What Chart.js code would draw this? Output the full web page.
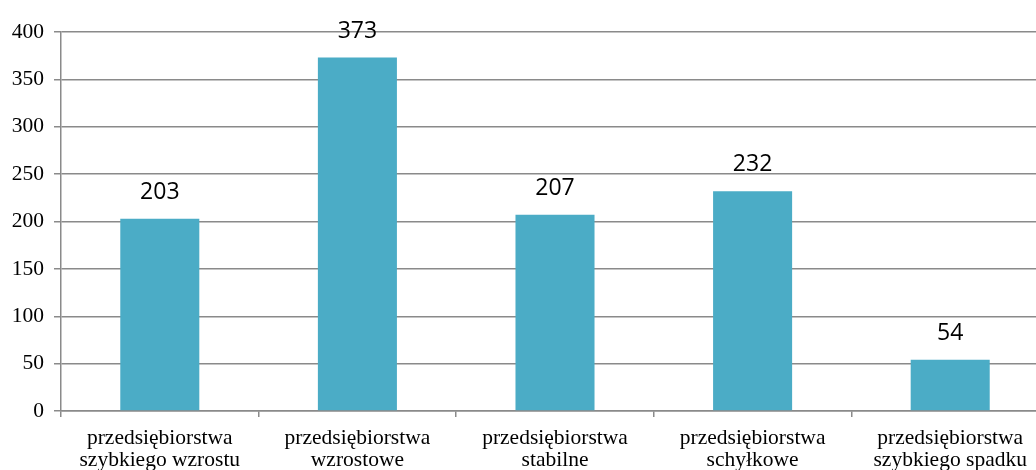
<!DOCTYPE html>
<html>
<head>
<meta charset="utf-8">
<script src="https://cdn.jsdelivr.net/npm/chart.js@4.4.0/dist/chart.umd.min.js"></script>
<style>
html,body{margin:0;padding:0;overflow:hidden;background:#fff;width:1036px;height:470px;}
#wrap{position:absolute;left:0;top:0;width:1050px;height:470px;}
</style>
</head>
<body>
<div id="wrap"><canvas id="c" width="1050" height="470"></canvas></div>
<script>
const categories = [
  ["przedsiębiorstwa", "szybkiego wzrostu"],
  ["przedsiębiorstwa", "wzrostowe"],
  ["przedsiębiorstwa", "stabilne"],
  ["przedsiębiorstwa", "schyłkowe"],
  ["przedsiębiorstwa", "szybkiego spadku"]
];
const values = [203, 373, 207, 232, 54];
const yTicks = [0, 50, 100, 150, 200, 250, 300, 350, 400];

const labelPlugin = {
  id: 'valueLabels',
  afterDatasetsDraw(chart) {
    const ctx = chart.ctx;
    const meta = chart.getDatasetMeta(0);
    ctx.save();
    ctx.font = '23px "Open Sans"';
    ctx.fillStyle = '#000';
    ctx.textAlign = 'center';
    ctx.textBaseline = 'alphabetic';
    meta.data.forEach((bar, i) => {
      ctx.fillText(String(values[i]), bar.x, bar.y - 20);
    });
    ctx.restore();
  }
};

new Chart(document.getElementById('c'), {
  type: 'bar',
  data: {
    labels: categories,
    datasets: [{
      data: values,
      backgroundColor: '#4BACC6',
      borderWidth: 0,
      barPercentage: 0.4,
      categoryPercentage: 1.0
    }]
  },
  options: {
    responsive: false,
    animation: false,
    devicePixelRatio: 1,
    layout: { padding: { top: 32, right: 1, left: 0, bottom: 0 } },
    plugins: { legend: { display: false }, tooltip: { enabled: false } },
    scales: {
      x: {
        grid: { offset: true, drawOnChartArea: false, drawTicks: true, tickLength: 6, color: '#8a8a8a', lineWidth: 1.5 },
        border: { display: true, color: '#8a8a8a', width: 1.5 },
        ticks: { font: { family: '"Liberation Serif"', size: 21.5, lineHeight: 1.0 }, color: '#000', padding: 11, maxRotation: 0, autoSkip: false },
        afterFit(scale) { scale.height = 59; }
      },
      y: {
        min: 0, max: 400,
        afterBuildTicks(scale) { scale.ticks = yTicks.map(v => ({ value: v })); },
        grid: { drawTicks: true, tickLength: 7, color: '#8a8a8a', lineWidth: 1.5 },
        border: { display: true, color: '#8a8a8a', width: 1.5 },
        ticks: { font: { family: '"Liberation Serif"', size: 21.5 }, color: '#000', padding: 10 },
        afterFit(scale) { scale.width = 61; }
      }
    }
  },
  plugins: [labelPlugin]
});
</script>
</body>
</html>
